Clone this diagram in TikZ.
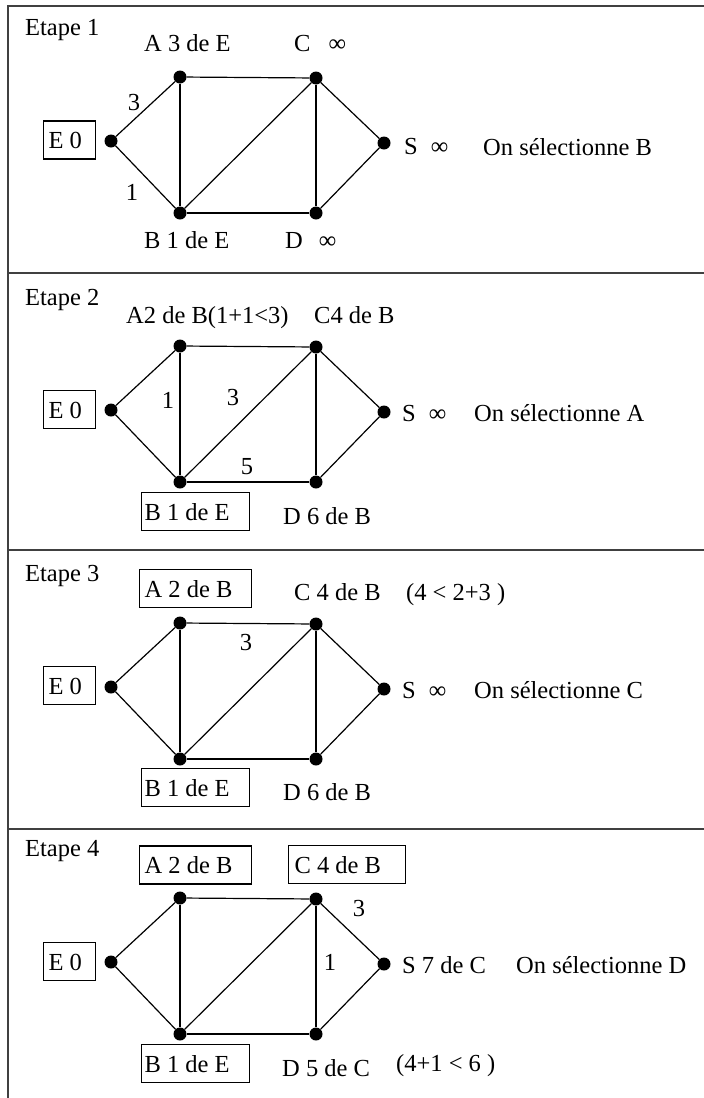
\documentclass[tikz,border=0pt]{standalone}
\usepackage{fontspec}
\setmainfont{Liberation Serif}
\newcommand\txtfont{\fontsize{24.5}{29}\selectfont}
\tikzset{
  lbl/.style={font=\txtfont, inner sep=0pt, anchor=base west},
  num/.style={font=\txtfont, inner sep=0pt},
  dot/.style={circle, fill=black, inner sep=0pt, minimum size=13pt},
  edge/.style={line width=1.2pt},
  frame/.style={line width=2pt, draw=black!75},
  valbox/.style={draw, line width=1.2pt, font=\txtfont, text height=17pt, text depth=0pt,
    inner ysep=10.5pt, anchor=west},
}
% #1 = suffix, #2 = y of A
\newcommand\mygraph[2]{%
  \node[dot] (A#1) at (180,#2) {};
  \node[dot] (C#1) at (316,#2+1) {};
  \node[dot] (E#1) at (111,#2+64) {};
  \node[dot] (S#1) at (384,#2+66) {};
  \node[dot] (B#1) at (180,#2+136) {};
  \node[dot] (D#1) at (316,#2+136) {};
  \draw[edge] (E#1) -- (A#1);
  \draw[edge] (E#1) -- (B#1);
  \draw[edge] (A#1) -- (B#1);
  \draw[edge] (A#1) -- (C#1);
  \draw[edge] (B#1) -- (C#1);
  \draw[edge] (B#1) -- (D#1);
  \draw[edge] (C#1) -- (D#1);
  \draw[edge] (C#1) -- (S#1);
  \draw[edge] (D#1) -- (S#1);
}
\newcommand\boxtxt[2]{\makebox[#1][l]{#2}}
\begin{document}
\begin{tikzpicture}[x=1pt,y=-1pt]
\useasboundingbox (0,0) rectangle (704,1098);
% frame
\draw[frame] (705,6) -- (8,6) -- (8,1099);
\draw[frame] (8,273) -- (705,273);
\draw[frame] (8,550) -- (705,550);
\draw[frame] (8,829) -- (705,829);

% ---------- Etape 1 ----------
\node[lbl] (t1) at (25,35) {Etape 1};
\mygraph{1}{77}
\node[valbox, inner xsep=5pt] (e1box) at (43,140) {\boxtxt{42pt}{E 0}};
\node[lbl] (a1l) at (144,51) {A 3 de E};
\node[lbl] (c1l) at (294,51) {C\hspace{18pt}∞};
\node[lbl] (s1l) at (404,154) {S\hspace{13pt}∞};
\node[lbl] (sel1) at (483,155) {On sélectionne B};
\node[lbl] (b1l) at (144,248) {B 1 de E};
\node[lbl] (d1l) at (285,248) {D\hspace{16pt}∞};
\node[num] (w1a) at (134,103) {3};
\node[num] (w1b) at (132,192) {1};

% ---------- Etape 2 ----------
\node[lbl] (t2) at (25,305) {Etape 2};
\mygraph{2}{346}
\node[valbox, inner xsep=5pt] (e2box) at (43,409.5) {\boxtxt{42pt}{E 0}};
\node[lbl] (a2l) at (126,323) {A2 de B(1+1<3)};
\node[lbl] (c2l) at (314,323) {C4 de B};
\node[lbl] (s2l) at (402,421) {S\hspace{13pt}∞};
\node[lbl] (sel2) at (474,421) {On sélectionne A};
\node[valbox, inner xsep=3pt] (b2box) at (141,511.5) {\boxtxt{102pt}{B 1 de E}};
\node[lbl] (d2l) at (283,524) {D 6 de B};
\node[num] (w2a) at (168,400) {1};
\node[num] (w2b) at (233,398) {3};
\node[num] (w2c) at (247,467) {5};

% ---------- Etape 3 ----------
\node[lbl] (t3) at (25,581) {Etape 3};
\mygraph{3}{623}
\node[valbox, inner xsep=5pt] (e3box) at (43,685.5) {\boxtxt{42pt}{E 0}};
\node[valbox, inner xsep=5pt] (a3box) at (139,588.5) {\boxtxt{102pt}{A 2 de B}};
\node[lbl] (c3l) at (294,600) {C 4 de B};
\node[lbl] (c3n) at (406,600) {(4 < 2+3 )};
\node[lbl] (s3l) at (402,698) {S\hspace{13pt}∞};
\node[lbl] (sel3) at (474,698) {On sélectionne C};
\node[valbox, inner xsep=3pt] (b3box) at (141,787.5) {\boxtxt{102pt}{B 1 de E}};
\node[lbl] (d3l) at (283,800) {D 6 de B};
\node[num] (w3a) at (246,643) {3};

% ---------- Etape 4 ----------
\node[lbl] (t4) at (25,856) {Etape 4};
\mygraph{4}{898}
\node[valbox, inner xsep=5pt] (e4box) at (43,961.5) {\boxtxt{42pt}{E 0}};
\node[valbox, inner xsep=5pt] (a4box) at (139,865) {\boxtxt{102pt}{A 2 de B}};
\node[valbox, inner xsep=6pt] (c4box) at (288,864.5) {\boxtxt{105pt}{C 4 de B}};
\node[lbl] (s4l) at (402,973) {S 7 de C};
\node[lbl] (sel4) at (516,973) {On sélectionne D};
\node[valbox, inner xsep=3pt] (b4box) at (141,1063.5) {\boxtxt{102pt}{B 1 de E}};
\node[lbl] (d4l) at (282,1076) {D 5 de C};
\node[lbl] (d4n) at (396,1071) {(4+1 < 6 )};
\node[num] (w4a) at (359,908) {3};
\node[num] (w4b) at (330,962) {1};
\end{tikzpicture}
\end{document}
